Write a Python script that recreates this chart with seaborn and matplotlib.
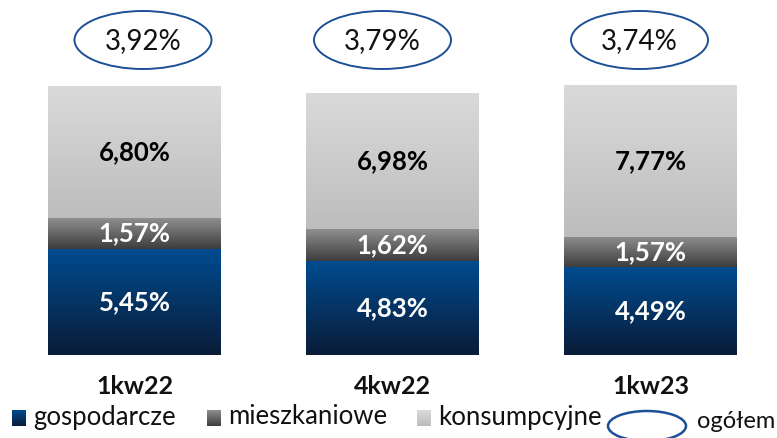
import numpy as np
import pandas as pd
import matplotlib.pyplot as plt
import seaborn as sns
from matplotlib.patches import Ellipse

quarters = ["1kw22", "4kw22", "1kw23"]
gospodarcze = [5.45, 4.83, 4.49]
mieszkaniowe = [1.57, 1.62, 1.57]
konsumpcyjne = [6.80, 6.98, 7.77]
ogolem = [3.92, 3.79, 3.74]
legend_names = ["gospodarcze", "mieszkaniowe", "konsumpcyjne", "ogółem"]


def pl(v):
    return f"{v:.2f}%".replace(".", ",")


# pixel -> data helpers (axes fills the whole figure)
X0, DX = 134.5, 258.0
Y0, DY = 355.0, 19.5


def px(x):
    return (x - X0) / DX


def py(y):
    return (Y0 - y) / DY


def gradient(top, bottom, n=128):
    t = np.linspace(0, 1, n)[:, None]
    c1 = np.array(plt.matplotlib.colors.to_rgb(top))
    c2 = np.array(plt.matplotlib.colors.to_rgb(bottom))
    return (c1 * (1 - t) + c2 * t)[:, None, :]


sns.set_theme(style="white")
plt.rcParams["font.family"] = ["Lato", "DejaVu Sans"]

fig = plt.figure(figsize=(7.77, 4.38), dpi=100)
ax = fig.add_axes([0, 0, 1, 1])

df = pd.DataFrame({"kw": quarters, "g": gospodarcze, "m": mieszkaniowe, "k": konsumpcyjne})
df["gm"] = df["g"] + df["m"]
df["gmk"] = df["gm"] + df["k"]

grads = {
    "k": ("#dadada", "#bdbdbd"),
    "m": ("#8f8f8f", "#3d3d3d"),
    "g": ("#004c90", "#0a1c38"),
}

# stacked bars drawn as cumulative totals, tallest first
layers = [("gmk", "k", "gm"), ("gm", "m", "g"), ("g", "g", None)]
for col, key, _ in layers:
    sns.barplot(data=df, x="kw", y=col, color=grads[key][1], width=0.67,
                saturation=1, ax=ax, linewidth=0)

for i, (col, key, low_col) in enumerate(layers):
    cont = ax.containers[i]
    for j, patch in enumerate(cont.patches):
        lo = df[low_col].iloc[j] if low_col else 0
        hi = df[col].iloc[j]
        x0 = patch.get_x()
        x1 = x0 + patch.get_width()
        im = ax.imshow(gradient(*grads[key]), extent=[x0, x1, lo, hi],
                       aspect="auto", origin="upper", zorder=2 + i)
        im.set_clip_path(patch)
        patch.set_zorder(1.5 + i)
        txt_col = "black" if key == "k" else "white"
        ax.text(j, (lo + hi) / 2, pl(df[key].iloc[j]), ha="center", va="center",
                fontsize=18.5, fontweight="bold", color=txt_col, zorder=10)

# "ogółem" ellipses above the bars
offsets = [8.5, -10, -11]
for j, v in enumerate(ogolem):
    cx = j + offsets[j] / DX
    ax.add_patch(Ellipse((cx, py(40)), 137 / DX, 58 / DY, facecolor="white",
                         edgecolor="#1c4f96", linewidth=1.4, zorder=5))
    ax.text(cx, py(41), pl(v), ha="center", va="center", fontsize=20,
            color="#111111", zorder=6)

# category labels
for j, q in enumerate(quarters):
    ax.text(j, py(386), q, ha="center", va="center", fontsize=18,
            fontweight="bold", color="#111111")

# legend drawn by hand
sq = [(12, "g"), (207, "m"), (417, "k")]
text_x = [33, 228, 438]
for (sx, key), tx, name in zip(sq, text_x, legend_names):
    ax.imshow(gradient(grads[key][0], grads[key][1]),
              extent=[px(sx), px(sx + 14), py(426), py(411)],
              aspect="auto", origin="upper", zorder=3)
    ax.text(px(tx), py(417), name, ha="left", va="center", fontsize=18.5,
            color="#111111")
ax.add_patch(Ellipse((px(647), py(426)), 78 / DX, 30 / DY, facecolor="none",
                     edgecolor="#1c4f96", linewidth=1.8, zorder=5, clip_on=False))
ax.text(px(697), py(422), legend_names[3], ha="left", va="center", fontsize=17,
        color="#111111")

ax.set_xlim(px(0), px(777))
ax.set_ylim(py(438), py(0))
ax.axis("off")

fig.savefig("out.png", dpi=100)
